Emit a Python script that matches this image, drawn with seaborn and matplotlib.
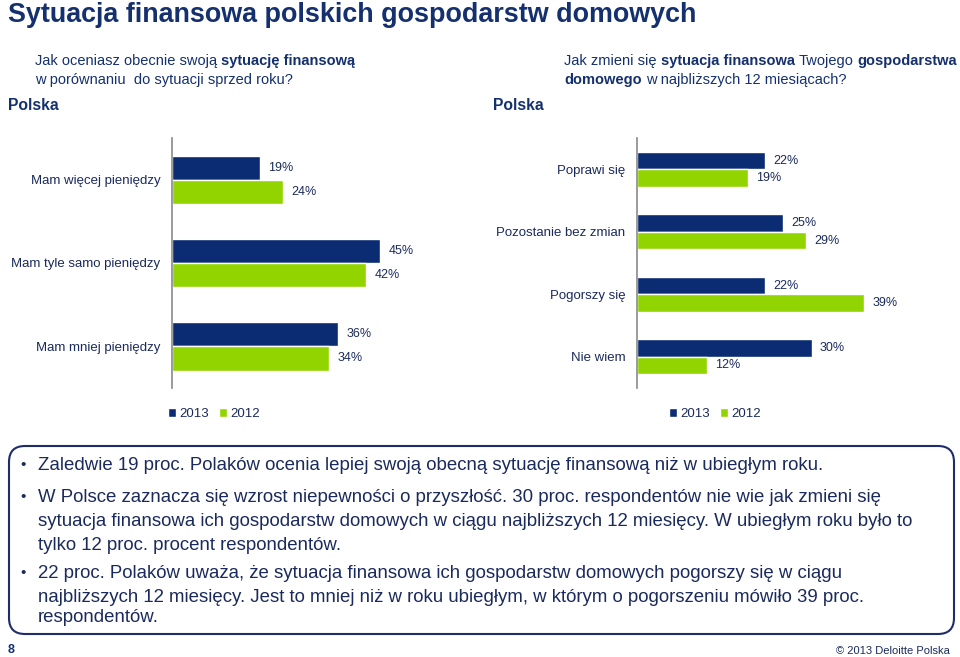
import pandas as pd
import matplotlib
matplotlib.use("Agg")
import matplotlib.pyplot as plt
import seaborn as sns
from matplotlib.patches import FancyBboxPatch
from matplotlib.offsetbox import TextArea, HPacker, AnnotationBbox

# data
years = ["2013", "2012"]
left_cats = ["Mam więcej pieniędzy", "Mam tyle samo pieniędzy", "Mam mniej pieniędzy"]
left_2013 = [19, 45, 36]
left_2012 = [24, 42, 34]
right_cats = ["Poprawi się", "Pozostanie bez zmian", "Pogorszy się", "Nie wiem"]
right_2013 = [22, 25, 22, 30]
right_2012 = [19, 29, 39, 12]

NAVY = "#0B2B72"
GREEN = "#92D400"
TEXT = "#1B2A5C"
TITLE = "#14306E"

sns.set_style("white")
plt.rcParams["font.family"] = ["Liberation Sans", "DejaVu Sans"]

W, H = 960, 657
fig = plt.figure(figsize=(9.6, 6.57), dpi=100)

# full-size background axes in pixel units for the slide text
bg = fig.add_axes([0, 0, 1, 1], zorder=0)
bg.set_xlim(0, W)
bg.set_ylim(H, 0)
bg.axis("off")


def px_axes(x0, y0, x1, y1):
    """Axes placed by pixel box (top-left origin)."""
    return fig.add_axes([x0 / W, (H - y1) / H, (x1 - x0) / W, (y1 - y0) / H], zorder=2)


def rich_line(x, y, segments, size, color):
    """Words with mixed weights packed side by side."""
    parts = [TextArea(txt, textprops=dict(fontsize=size, color=color,
                                          weight="bold" if bold else "normal"))
             for bold, txt in segments]
    pack = HPacker(children=parts, sep=0.278 * size, pad=0, align="baseline")
    ab = AnnotationBbox(pack, (x, y), xycoords="data", box_alignment=(0, 0.5),
                        frameon=False, pad=0)
    bg.add_artist(ab)


def bar_panel(ax, cats, v13, v12, xmax, width):
    df = pd.DataFrame({
        "cat": cats * 2,
        "val": v13 + v12,
        "year": [years[0]] * len(cats) + [years[1]] * len(cats),
    })
    sns.barplot(data=df, y="cat", x="val", hue="year", hue_order=years,
                palette=[NAVY, GREEN], orient="h", width=width, ax=ax,
                saturation=1, legend=True)
    for cont in ax.containers:
        ax.bar_label(cont, labels=[f"{v:.0f}%" for v in cont.datavalues],
                     padding=6, fontsize=9, color=TEXT)
    ax.set_xlim(0, xmax)
    ax.set_xlabel("")
    ax.set_ylabel("")
    ax.set_xticks([])
    for s in ["top", "right", "bottom"]:
        ax.spines[s].set_visible(False)
    ax.spines["left"].set_color("#8A8A8A")
    ax.spines["left"].set_linewidth(1.2)
    ax.tick_params(axis="y", length=0, pad=8.5, labelsize=9.5, labelcolor=TEXT)
    ax.set_facecolor("none")
    handles, labels = ax.get_legend_handles_labels()
    ax.get_legend().remove()
    return handles, labels


def add_legend(ax, handles, labels, x, y):
    ax.legend(handles, labels, ncol=2, loc="center left", bbox_to_anchor=(x, y),
              bbox_transform=bg.transData, frameon=False, fontsize=9.5,
              handlelength=0.6, handleheight=0.6, handletextpad=0.25,
              columnspacing=0.8, labelcolor=TEXT, borderpad=0, borderaxespad=0)


# left chart
axl = px_axes(172, 138, 172 + 66 * 4.62, 388)
hl, ll = bar_panel(axl, left_cats, left_2013, left_2012, 66, 0.58)
add_legend(axl, hl, ll, 168, 414)

# right chart
axr = px_axes(637, 138, 637 + 50 * 5.82, 388)
hr, lr = bar_panel(axr, right_cats, right_2013, right_2012, 50, 0.56)
add_legend(axr, hr, lr, 669, 414)

# title and questions
bg.text(8, 15, "Sytuacja finansowa polskich gospodarstw domowych", fontsize=19.4,
        weight="bold", color=TITLE, va="center")
rich_line(35, 61, [(False, "Jak oceniasz obecnie swoją"), (True, "sytuację finansową")],
          10.5, TITLE)
rich_line(35, 80, [(False, "w porównaniu  do sytuacji sprzed roku?")], 10.5, TITLE)
rich_line(564, 61, [(False, "Jak zmieni się"), (True, "sytuacja finansowa"),
                    (False, "Twojego"), (True, "gospodarstwa")], 10.5, TITLE)
rich_line(564, 80, [(True, "domowego"), (False, "w najbliższych 12 miesiącach?")],
          10.5, TITLE)
bg.text(8, 106, "Polska", fontsize=11.3, weight="bold", color=TITLE, va="center")
bg.text(493, 106, "Polska", fontsize=11.3, weight="bold", color=TITLE, va="center")

# summary box
bg.add_patch(FancyBboxPatch((9, 446), 945, 188, boxstyle="round,pad=0,rounding_size=16",
                            fill=False, edgecolor="#1F2D6B", linewidth=1.5))
bullets = [
    (465, True, "Zaledwie 19 proc. Polaków ocenia lepiej swoją obecną sytuację finansową niż w ubiegłym roku."),
    (497, True, "W Polsce zaznacza się wzrost niepewności o przyszłość. 30 proc. respondentów nie wie jak zmieni się"),
    (521, False, "sytuacja finansowa ich gospodarstw domowych w ciągu najbliższych 12 miesięcy. W ubiegłym roku było to"),
    (545, False, "tylko 12 proc. procent respondentów."),
    (573, True, "22 proc. Polaków uważa, że sytuacja finansowa ich gospodarstw domowych pogorszy się w ciągu"),
    (597, False, "najbliższych 12 miesięcy. Jest to mniej niż w roku ubiegłym, w którym o pogorszeniu mówiło 39 proc."),
    (618, False, "respondentów."),
]
for y, dot, line in bullets:
    if dot:
        bg.text(20, y, "•", fontsize=11, color=TEXT, va="center")
    bg.text(38, y, line, fontsize=13.45, color=TEXT, va="center")

# footer
bg.text(8, 650, "8", fontsize=9, weight="bold", color=TITLE, va="center")
bg.text(950, 651, "© 2013 Deloitte Polska", fontsize=8, color=TEXT, va="center", ha="right")

fig.savefig("out.png", dpi=100)
